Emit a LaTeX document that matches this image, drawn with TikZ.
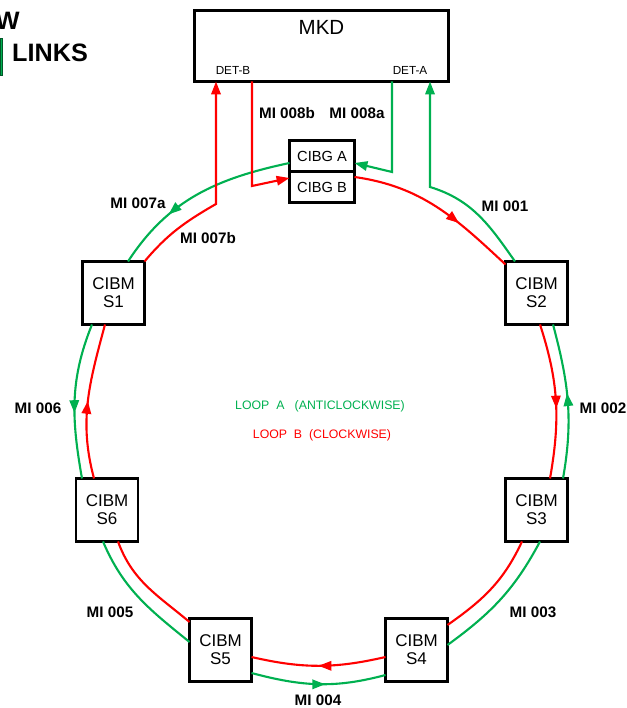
\documentclass[tikz,border=0pt]{standalone}
\usepackage{fontspec}
\setmainfont{Liberation Sans}
\usetikzlibrary{arrows.meta, positioning, calc, decorations.markings}
\definecolor{loopa}{RGB}{0,176,80}
\definecolor{loopb}{RGB}{255,0,0}

\begin{document}
\begin{tikzpicture}[
    x=0.03cm, y=0.03cm,
    cibm/.style={draw, line width=2.5pt, fill=white, outer sep=0pt, inner sep=0pt, align=center,
        minimum width=1.86cm, minimum height=1.89cm, font=\fontsize{14.5}{15.5}\selectfont},
    cibg/.style={draw, line width=2.5pt, fill=white, outer sep=0pt, inner sep=0pt,
        minimum width=1.95cm, minimum height=0.93cm, font=\fontsize{12.5}{14}\selectfont},
    mi/.style={font=\bfseries\fontsize{13}{15}\selectfont, inner sep=0pt},
    ringline/.style={line width=1.8pt},
    endtip/.style={-{Triangle[length=11pt, width=8pt]}},
    midtip/.style={postaction={decorate}, decoration={markings,
        mark=at position #1 with {\arrow{Triangle[length=11pt, width=8pt]}}}}
]
    \useasboundingbox (0,0) rectangle (627,708);

    % legend, cut at the left edge
    \node[font=\bfseries\fontsize{21.5}{24}\selectfont, inner sep=0pt, anchor=east] (legw) at (20,687) {W};
    \node[font=\bfseries\fontsize{21.5}{24}\selectfont, inner sep=0pt, anchor=west] (leglinks) at (12,655.5) {LINKS};
    \draw[draw=loopa!50!black, fill=loopa, line width=0.3pt] (0,633) rectangle (2.5,670);

    % boxes
    \node[draw, line width=2.5pt, outer sep=0pt, minimum width=7.62cm, minimum height=2.13cm] (mkd) at (321.5,662) {};
    \node[font=\fontsize{17.5}{20}\selectfont] (mkdname) at ($(mkd.north)+(0,-16.5)$) {MKD};
    \node[font=\fontsize{10}{12}\selectfont] (detb) at (233,638) {DET-B};
    \node[font=\fontsize{10}{12}\selectfont] (deta) at (410,638) {DET-A};

    \node[cibg] (cibga) at (322,552) {CIBG A};
    \node[cibg, below=0pt of cibga] (cibgb) {CIBG B};

    \node[cibm] (s1) at (113.5,415) {CIBM\\S1};
    \node[cibm] (s2) at (536.5,415) {CIBM\\S2};
    \node[cibm] (s6) at (107,198) {CIBM\\S6};
    \node[cibm] (s3) at (536.5,198) {CIBM\\S3};
    \node[cibm] (s5) at (220.5,58) {CIBM\\S5};
    \node[cibm] (s4) at (416.5,58) {CIBM\\S4};

    \coordinate (kneea) at (430,521);
    \coordinate (knee8a) at (392,536);
    \coordinate (kneeb) at (216,504);
    \coordinate (knee8b) at (252,522);

    % loop A (anticlockwise)
    \draw[ringline, loopa, midtip=0.68] ($(cibga.west)+(0,-7)$) to[out=192, in=57] ($(s1.north)+(14.5,0)$);
    \draw[ringline, loopa, midtip=0.58] ($(s1.south)+(-21.5,0)$) to[out=248, in=100] ($(s6.north)+(-25,0)$);
    \draw[ringline, loopa] ($(s6.south)+(-4,0)$) to[out=293, in=141] ($(s5.west)+(0,8)$);
    \draw[ringline, loopa, midtip=0.55] ($(s5.east)+(0,-23)$) to[out=-15, in=195] ($(s4.west)+(0,-25)$);
    \draw[ringline, loopa] ($(s4.east)+(0,5)$) to[out=36, in=242] ($(s3.south)+(3.5,0)$);
    \draw[ringline, loopa, midtip=0.55] ($(s3.north)+(26.5,0)$) to[out=80, in=285] ($(s2.south)+(16.5,0)$);
    \draw[ringline, loopa, endtip] ($(s2.north)+(-21.5,0)$) to[out=125, in=343] (kneea) -- (kneea |- mkd.south);
    \draw[ringline, loopa, endtip] (knee8a |- mkd.south) -- (knee8a) -- ($(cibga.east)+(0,-7)$);

    % loop B (clockwise)
    \draw[ringline, loopb, midtip=0.65] ($(cibgb.east)+(0,10)$) to[out=-8, in=137] ($(s2.north west)+(0,-3)$);
    \draw[ringline, loopb, midtip=0.55] ($(s2.south)+(3.5,0)$) to[out=288, in=80] ($(s3.north)+(13.5,0)$);
    \draw[ringline, loopb] ($(s3.south)+(-14.5,0)$) to[out=245, in=35] ($(s4.east)+(0,25)$);
    \draw[ringline, loopb, midtip=0.5] ($(s4.west)+(0,-7)$) to[out=193, in=-13] ($(s5.east)+(0,-7)$);
    \draw[ringline, loopb] ($(s5.west)+(0,28)$) to[out=140, in=290] ($(s6.south)+(11,0)$);
    \draw[ringline, loopb, midtip=0.5] ($(s6.north)+(-13,0)$) to[out=105, in=255] ($(s1.south)+(-8.5,0)$);
    \draw[ringline, loopb, endtip] (s1.north east) to[out=50, in=210] (kneeb) -- (kneeb |- mkd.south);
    \draw[ringline, loopb, endtip] (knee8b |- mkd.south) -- (knee8b) -- ($(cibgb.west)+(0,9)$);

    % link labels
    \node[mi] (l8b) at (287,595) {MI 008b};
    \node[mi] (l8a) at (357,595) {MI 008a};
    \node[mi] (l7a) at (138,505) {MI 007a};
    \node[mi] (l7b) at (208,470) {MI 007b};
    \node[mi] (l1) at (505,502) {MI 001};
    \node[mi] (l6) at (38,300) {MI 006};
    \node[mi] (l2) at (603,300) {MI 002};
    \node[mi] (l5) at (110,96) {MI 005};
    \node[mi] (l3) at (533,96) {MI 003};
    \node[mi] (l4) at (318,8) {MI 004};

    \node[text=loopa, font=\fontsize{10.5}{12}\selectfont] (loopaname) at (320,302) {LOOP\ \ A\ \ \ (ANTICLOCKWISE)};
    \node[text=loopb, font=\fontsize{10.5}{12}\selectfont] (loopbname) at (322,273) {LOOP\ \ B\ \ (CLOCKWISE)};
\end{tikzpicture}
\end{document}
